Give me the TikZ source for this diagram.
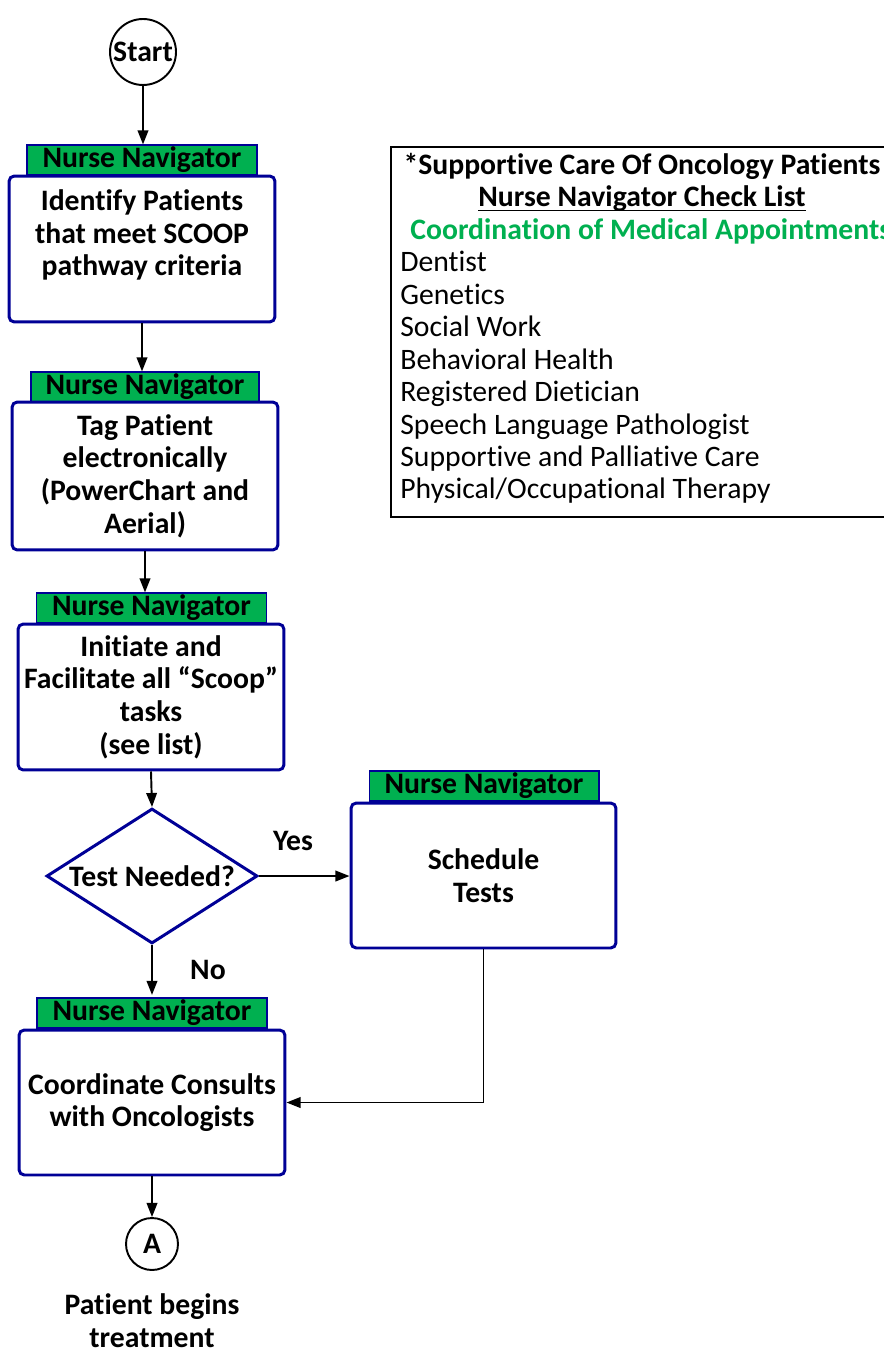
\documentclass[tikz,border=0pt]{standalone}
\usepackage{fontspec}
\setmainfont{Carlito}[Ligatures=NoCommon]
\usetikzlibrary{shapes.geometric,arrows.meta,positioning}
\definecolor{navyline}{RGB}{0,0,150}
\definecolor{navgreen}{RGB}{0,176,80}
\newcommand{\flowfont}{\fontsize{16.9}{18.6}\selectfont}
\newcommand{\baseunderline}[1]{\setbox0\hbox{#1}\rlap{\rule[-2.4pt]{\wd0}{0.8pt}}\box0}
\begin{document}
\begin{tikzpicture}[x=0.02cm,y=-0.02cm,role node/.style={draw=navyline, line width=0.6pt, fill=navgreen, font=\flowfont\bfseries, minimum width=4.6cm, minimum height=0.6cm, inner sep=0pt},task node/.style={draw=navyline, line width=1.7pt, rounded corners=3pt, fill=white, align=center, font=\flowfont\bfseries, minimum width=5.32cm, minimum height=2.92cm, inner sep=2pt},terminal node/.style={circle, draw, line width=1.1pt, font=\flowfont\bfseries, inner sep=0pt},decision node/.style={diamond, draw=navyline, line width=1.7pt, aspect=1.56, minimum width=4.22cm, minimum height=2.7cm, inner sep=0pt, font=\flowfont\bfseries},flow/.style={-{Triangle[length=8pt,width=6pt]}, line width=1.1pt},answer node/.style={font=\flowfont\bfseries},list node/.style={font=\flowfont, inner sep=0pt, anchor=base west}]%
\path[use as bounding box] (0,0) rectangle (884,1351);%
\clip (0,0) rectangle (884,1351);%
  % Start%
\node[terminal node, minimum size=1.32cm] (start) at (143,52) {Start};%
  % Identify%
\node[role node] (role1) at (142,160) {Nurse Navigator};%
\node[task node] (identify) at (142,249) {Identify Patients\\that meet SCOOP\\pathway criteria\\\mbox{}};%
  % Tag%
\node[role node, minimum width=4.56cm] (role2) at (145,387) {Nurse Navigator};%
\node[task node, minimum height=2.96cm] (tag) at (145,476) {Tag Patient\\electronically\\(PowerChart and\\Aerial)};%
  % Initiate%
\node[role node] (role3) at (151.5,608) {Nurse Navigator};%
\node[task node] (initiate) at (151,697) {Initiate and\\Facilitate all “Scoop”\\tasks\\(see list)};%
  % Decision%
\node[decision node] (test) at (152,876) {Test Needed?};%
\node[role node] (role4) at (484,786) {Nurse Navigator};%
\node[task node, minimum width=5.3cm, minimum height=2.9cm] (schedule) at (483.5,875.5) {Schedule\\Tests};%
\node[answer node] (yes) at (293,841) {Yes};%
\node[answer node] (no) at (208,970) {No};%
  % Consults%
\node[role node] (role5) at (152,1013) {Nurse Navigator};%
\node[task node, minimum height=2.9cm] (consult) at (152,1102.5) {Coordinate Consults\\with Oncologists};%
  % Connector%
\node[terminal node, minimum size=1.04cm] (conA) at (152,1244) {A};%
\node[answer node, align=center, inner sep=0pt] (begins) at (152,1320.5) {Patient begins\\treatment};%
  % Check list%
\node[draw, line width=1.4pt, minimum width=10.04cm, minimum height=7.4cm, inner sep=0pt] (checklist) at (642,332) {};%
\node[answer node, anchor=base, inner sep=0pt] (listtitle) at (642,175) {*Supportive Care Of Oncology Patients};%
\node[answer node, anchor=base, inner sep=0pt] (listsub) at (642,206.7) {\baseunderline{Nurse Navigator Check List}};%
\node[answer node, anchor=base west, inner sep=0pt, text=navgreen] (listhead) at (410,239.3) {Coordination of Medical Appointments};%
\foreach \entry [count=\k] in {Dentist, Genetics, Social Work, Behavioral Health, Registered Dietician, Speech Language Pathologist, Supportive and Palliative Care, Physical/Occupational Therapy}%
  \node[list node] (entry\k) at (400,{272+32.4*(\k-1)}) {\entry};%
  % Connectors%
\draw[flow] (start) -- (start |- role1.north);%
\draw[flow] (identify.south) -- (identify.south |- role2.north);%
\draw[flow] (tag.south) -- (tag.south |- role3.north);%
\draw[flow] (initiate.south) -- (test.north);%
\draw[flow] (test.east) -- (test.east -| schedule.west);%
\draw[flow] (test.south) -- ++(0,50);%
\draw[flow] (schedule.south) |- (consult.east);%
\draw[flow] (consult.south) -- (conA.north);%
\end{tikzpicture}
\end{document}
